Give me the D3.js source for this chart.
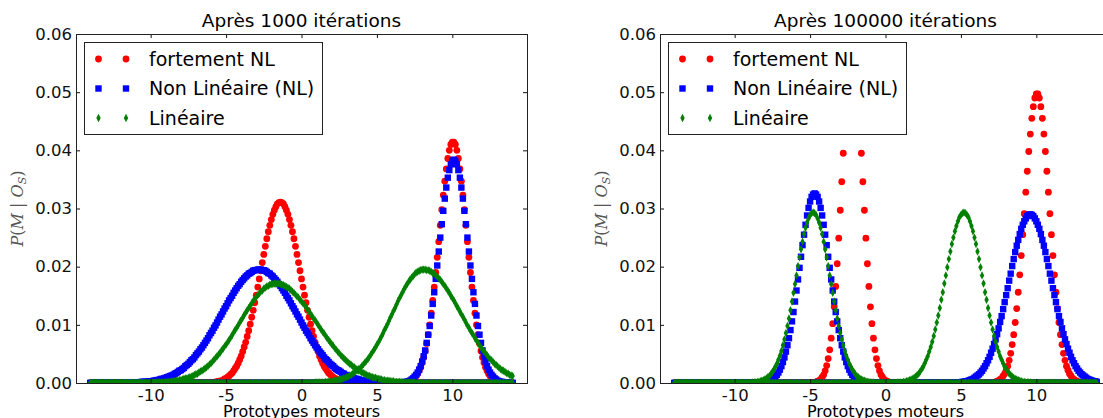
<!DOCTYPE html>
<html lang="fr">
<head>
<meta charset="UTF-8">
<title>P(M | Os) - prototypes moteurs</title>
<script src="https://d3js.org/d3.v7.min.js"></script>
<style>
  body { margin: 0; background: #fff; }
  text { font-family: "DejaVu Sans", sans-serif; }
</style>
</head>
<body>
<div id="chart"></div>
<script>
// one value per motor prototype, grid -14 .. 14 step 0.1 (10 values per line)
var prototypes = d3.range(281).map(function(i){ return Math.round(-140 + i) / 10; });
var xTicks = [-10, -5, 0, 5, 10];
var yTicks = [0, 0.01, 0.02, 0.03, 0.04, 0.05, 0.06];
var titles = ["Après 1000 itérations", "Après 100000 itérations"];
var seriesNames = ["fortement NL", "Non Linéaire (NL)", "Linéaire"];

// ---- after 1000 iterations ----
var fortA_1000 = [
0,0,0,0,0,0,0,0,0,0,
0,0,0,0,0,0,0,0,0,0,
0,0,0,0,0,0,0,0,0,0,
0,0,0,0,0,0,0,0,0,0,
0,0,0,0,0,0,0,0,0,0,
0,0,0,0,0,0,0,0,0,0,
0,0,0,0,0,0,0,0,0,0,
0,0,0,0,0,0,0,0,0,.0001,
.0001,.0001,.0001,.0002,.0002,.0003,.0003,.0004,.0005,.0007,
.0008,.0010,.0012,.0015,.0017,.0021,.0025,.0029,.0034,.0040,
.0046,.0054,.0062,.0070,.0080,.0090,.0101,.0113,.0125,.0138,
.0151,.0165,.0179,.0193,.0207,.0221,.0235,.0248,.0260,.0271,
.0281,.0290,.0297,.0303,.0308,.0310,.0311,.0310,.0308,.0303,
.0297,.0290,.0281,.0271,.0260,.0248,.0235,.0221,.0207,.0193,
.0179,.0165,.0151,.0138,.0125,.0113,.0101,.0090,.0080,.0070,
.0062,.0054,.0046,.0040,.0034,.0029,.0025,.0021,.0017,.0015,
.0012,.0010,.0008,.0007,.0005,.0004,.0003,.0003,.0002,.0002,
.0001,.0001,.0001,.0001,0,0,0,0,0,0,
0,0,0,0,0,0,0,0,0,0,
0,0,0,0,0,0,0,0,0,0,
0,0,0,0,0,0,0,0,0,0,
0,0,0,0,0,0,0,0,0,0,
0,0,0,0,0,0,0,0,0,0,
0,0,0,0,0,0,0,0,0,0,
0,0,0,0,0,0,0,0,0,0,
0,0,0,0,0,0,0,0,0,0,
0,0,0,0,0,0,0,0,0,0,
0,0,0,0,0,0,0,0,0,0,
0];
var fortB_1000 = [
0,0,0,0,0,0,0,0,0,0,
0,0,0,0,0,0,0,0,0,0,
0,0,0,0,0,0,0,0,0,0,
0,0,0,0,0,0,0,0,0,0,
0,0,0,0,0,0,0,0,0,0,
0,0,0,0,0,0,0,0,0,0,
0,0,0,0,0,0,0,0,0,0,
0,0,0,0,0,0,0,0,0,0,
0,0,0,0,0,0,0,0,0,0,
0,0,0,0,0,0,0,0,0,0,
0,0,0,0,0,0,0,0,0,0,
0,0,0,0,0,0,0,0,0,0,
0,0,0,0,0,0,0,0,0,0,
0,0,0,0,0,0,0,0,0,0,
0,0,0,0,0,0,0,0,0,0,
0,0,0,0,0,0,0,0,0,0,
0,0,0,0,0,0,0,0,0,0,
0,0,0,0,0,0,0,0,0,0,
0,0,0,0,0,0,0,0,0,0,
0,0,0,0,0,0,0,0,0,0,
0,0,0,0,0,0,0,.0001,.0001,.0001,
.0002,.0002,.0003,.0005,.0007,.0009,.0012,.0016,.0021,.0027,
.0035,.0044,.0055,.0068,.0083,.0100,.0120,.0142,.0165,.0190,
.0216,.0243,.0271,.0298,.0323,.0347,.0368,.0386,.0400,.0410,
.0414,.0414,.0410,.0400,.0386,.0368,.0347,.0323,.0298,.0271,
.0243,.0216,.0190,.0165,.0142,.0120,.0100,.0083,.0068,.0055,
.0044,.0035,.0027,.0021,.0016,.0012,.0009,.0007,.0005,.0003,
.0002,.0002,.0001,.0001,.0001,0,0,0,0,0,
0];
var nlA_1000 = [
0,0,0,0,0,0,0,0,0,0,
0,0,0,0,0,0,0,0,0,0,
0,0,0,0,0,0,.0001,.0001,.0001,.0001,
.0001,.0001,.0001,.0001,.0002,.0002,.0002,.0002,.0002,.0003,
.0003,.0003,.0004,.0004,.0005,.0005,.0006,.0007,.0007,.0008,
.0009,.0010,.0011,.0012,.0013,.0014,.0016,.0017,.0019,.0021,
.0022,.0024,.0026,.0029,.0031,.0033,.0036,.0039,.0041,.0044,
.0048,.0051,.0054,.0058,.0061,.0065,.0069,.0073,.0077,.0082,
.0086,.0090,.0095,.0099,.0104,.0109,.0114,.0118,.0123,.0128,
.0132,.0137,.0142,.0146,.0150,.0155,.0159,.0163,.0167,.0170,
.0174,.0177,.0180,.0183,.0185,.0188,.0189,.0191,.0193,.0194,
.0194,.0195,.0195,.0195,.0194,.0194,.0193,.0191,.0189,.0188,
.0185,.0183,.0180,.0177,.0174,.0170,.0167,.0163,.0159,.0155,
.0150,.0146,.0142,.0137,.0132,.0128,.0123,.0118,.0114,.0109,
.0104,.0099,.0095,.0090,.0086,.0082,.0077,.0073,.0069,.0065,
.0061,.0058,.0054,.0051,.0048,.0044,.0041,.0039,.0036,.0033,
.0031,.0029,.0026,.0024,.0022,.0021,.0019,.0017,.0016,.0014,
.0013,.0012,.0011,.0010,.0009,.0008,.0007,.0007,.0006,.0005,
.0005,.0004,.0004,.0003,.0003,.0003,.0002,.0002,.0002,.0002,
.0002,.0001,.0001,.0001,.0001,.0001,.0001,.0001,.0001,0,
0,0,0,0,0,0,0,0,0,0,
0,0,0,0,0,0,0,0,0,0,
0,0,0,0,0,0,0,0,0,0,
0,0,0,0,0,0,0,0,0,0,
0,0,0,0,0,0,0,0,0,0,
0,0,0,0,0,0,0,0,0,0,
0,0,0,0,0,0,0,0,0,0,
0,0,0,0,0,0,0,0,0,0,
0];
var nlB_1000 = [
0,0,0,0,0,0,0,0,0,0,
0,0,0,0,0,0,0,0,0,0,
0,0,0,0,0,0,0,0,0,0,
0,0,0,0,0,0,0,0,0,0,
0,0,0,0,0,0,0,0,0,0,
0,0,0,0,0,0,0,0,0,0,
0,0,0,0,0,0,0,0,0,0,
0,0,0,0,0,0,0,0,0,0,
0,0,0,0,0,0,0,0,0,0,
0,0,0,0,0,0,0,0,0,0,
0,0,0,0,0,0,0,0,0,0,
0,0,0,0,0,0,0,0,0,0,
0,0,0,0,0,0,0,0,0,0,
0,0,0,0,0,0,0,0,0,0,
0,0,0,0,0,0,0,0,0,0,
0,0,0,0,0,0,0,0,0,0,
0,0,0,0,0,0,0,0,0,0,
0,0,0,0,0,0,0,0,0,0,
0,0,0,0,0,0,0,0,0,0,
0,0,0,0,0,0,0,0,0,0,
0,0,0,0,0,0,.0001,.0001,.0001,.0002,
.0002,.0003,.0004,.0006,.0008,.0011,.0014,.0018,.0023,.0029,
.0037,.0046,.0056,.0069,.0083,.0098,.0116,.0136,.0156,.0179,
.0202,.0226,.0250,.0273,.0296,.0317,.0336,.0353,.0366,.0376,
.0382,.0384,.0382,.0376,.0366,.0353,.0336,.0317,.0296,.0273,
.0250,.0226,.0202,.0179,.0156,.0136,.0116,.0098,.0083,.0069,
.0056,.0046,.0037,.0029,.0023,.0018,.0014,.0011,.0008,.0006,
.0004,.0003,.0002,.0002,.0001,.0001,.0001,0,0,0,
0];
var linA_1000 = [
0,0,0,0,0,0,0,0,0,0,
0,0,0,0,0,0,0,0,0,0,
0,0,0,0,0,0,0,0,0,0,
0,0,0,0,0,0,0,0,0,0,
0,0,.0001,.0001,.0001,.0001,.0001,.0001,.0001,.0001,
.0002,.0002,.0002,.0002,.0003,.0003,.0003,.0004,.0004,.0005,
.0005,.0006,.0007,.0008,.0008,.0009,.0010,.0011,.0012,.0014,
.0015,.0016,.0018,.0020,.0021,.0023,.0025,.0027,.0029,.0032,
.0034,.0037,.0040,.0043,.0046,.0049,.0052,.0056,.0059,.0063,
.0066,.0070,.0074,.0078,.0082,.0087,.0091,.0095,.0099,.0104,
.0108,.0112,.0117,.0121,.0125,.0129,.0133,.0137,.0141,.0144,
.0148,.0151,.0154,.0157,.0159,.0162,.0164,.0166,.0167,.0169,
.0170,.0170,.0171,.0171,.0171,.0171,.0170,.0169,.0168,.0167,
.0165,.0164,.0162,.0160,.0157,.0155,.0152,.0149,.0147,.0143,
.0140,.0137,.0134,.0130,.0126,.0123,.0119,.0115,.0111,.0108,
.0104,.0100,.0096,.0092,.0088,.0085,.0081,.0077,.0074,.0070,
.0067,.0064,.0060,.0057,.0054,.0051,.0048,.0045,.0043,.0040,
.0038,.0035,.0033,.0031,.0029,.0027,.0025,.0023,.0021,.0020,
.0018,.0017,.0016,.0014,.0013,.0012,.0011,.0010,.0009,.0009,
.0008,.0007,.0007,.0006,.0005,.0005,.0004,.0004,.0004,.0003,
.0003,.0003,.0002,.0002,.0002,.0002,.0002,.0001,.0001,.0001,
.0001,.0001,.0001,.0001,.0001,.0001,0,0,0,0,
0,0,0,0,0,0,0,0,0,0,
0,0,0,0,0,0,0,0,0,0,
0,0,0,0,0,0,0,0,0,0,
0,0,0,0,0,0,0,0,0,0,
0,0,0,0,0,0,0,0,0,0,
0,0,0,0,0,0,0,0,0,0,
0];
var linB_1000 = [
0,0,0,0,0,0,0,0,0,0,
0,0,0,0,0,0,0,0,0,0,
0,0,0,0,0,0,0,0,0,0,
0,0,0,0,0,0,0,0,0,0,
0,0,0,0,0,0,0,0,0,0,
0,0,0,0,0,0,0,0,0,0,
0,0,0,0,0,0,0,0,0,0,
0,0,0,0,0,0,0,0,0,0,
0,0,0,0,0,0,0,0,0,0,
0,0,0,0,0,0,0,0,0,0,
0,0,0,0,0,0,0,0,0,0,
0,0,0,0,0,0,0,0,0,0,
0,0,0,0,0,0,0,0,0,0,
0,0,0,0,0,0,0,0,0,0,
0,0,0,0,0,0,0,0,0,.0001,
.0001,.0001,.0001,.0001,.0001,.0001,.0002,.0002,.0002,.0002,
.0003,.0003,.0004,.0004,.0005,.0006,.0006,.0007,.0008,.0009,
.0010,.0011,.0013,.0014,.0016,.0018,.0020,.0022,.0024,.0026,
.0029,.0032,.0035,.0038,.0041,.0045,.0049,.0053,.0057,.0061,
.0066,.0070,.0075,.0080,.0085,.0091,.0096,.0101,.0107,.0113,
.0118,.0124,.0129,.0135,.0141,.0146,.0151,.0156,.0161,.0166,
.0170,.0174,.0178,.0181,.0184,.0187,.0190,.0191,.0193,.0194,
.0195,.0195,.0195,.0194,.0194,.0193,.0191,.0189,.0188,.0185,
.0183,.0180,.0177,.0174,.0170,.0167,.0163,.0159,.0155,.0150,
.0146,.0142,.0137,.0132,.0128,.0123,.0118,.0114,.0109,.0104,
.0099,.0095,.0090,.0086,.0082,.0077,.0073,.0069,.0065,.0061,
.0058,.0054,.0051,.0048,.0044,.0041,.0039,.0036,.0033,.0031,
.0029,.0026,.0024,.0022,.0021,.0019,.0017,.0016,.0014,.0013,
.0012];

// ---- after 100000 iterations ----
var fortA_100000 = [
0,0,0,0,0,0,0,0,0,0,
0,0,0,0,0,0,0,0,0,0,
0,0,0,0,0,0,0,0,0,0,
0,0,0,0,0,0,0,0,0,0,
0,0,0,0,0,0,0,0,0,0,
0,0,0,0,0,0,0,0,0,0,
0,0,0,0,0,0,0,0,0,0,
0,0,0,0,0,0,0,0,0,0,
0,0,0,0,0,0,0,0,0,0,
0,0,.0001,.0001,.0002,.0003,.0004,.0006,.0010,.0014,
.0021,.0030,.0042,.0057,.0077,.0102,.0131,.0166,.0205,.0249,
.0297,.0346,.0395,.0442,.0484,.0520,.0547,.0564,.0570,.0564,
.0547,.0520,.0484,.0442,.0395,.0346,.0297,.0249,.0205,.0166,
.0131,.0102,.0077,.0057,.0042,.0030,.0021,.0014,.0010,.0006,
.0004,.0003,.0002,.0001,.0001,0,0,0,0,0,
0,0,0,0,0,0,0,0,0,0,
0,0,0,0,0,0,0,0,0,0,
0,0,0,0,0,0,0,0,0,0,
0,0,0,0,0,0,0,0,0,0,
0,0,0,0,0,0,0,0,0,0,
0,0,0,0,0,0,0,0,0,0,
0,0,0,0,0,0,0,0,0,0,
0,0,0,0,0,0,0,0,0,0,
0,0,0,0,0,0,0,0,0,0,
0,0,0,0,0,0,0,0,0,0,
0,0,0,0,0,0,0,0,0,0,
0,0,0,0,0,0,0,0,0,0,
0,0,0,0,0,0,0,0,0,0,
0];
var fortB_100000 = [
0,0,0,0,0,0,0,0,0,0,
0,0,0,0,0,0,0,0,0,0,
0,0,0,0,0,0,0,0,0,0,
0,0,0,0,0,0,0,0,0,0,
0,0,0,0,0,0,0,0,0,0,
0,0,0,0,0,0,0,0,0,0,
0,0,0,0,0,0,0,0,0,0,
0,0,0,0,0,0,0,0,0,0,
0,0,0,0,0,0,0,0,0,0,
0,0,0,0,0,0,0,0,0,0,
0,0,0,0,0,0,0,0,0,0,
0,0,0,0,0,0,0,0,0,0,
0,0,0,0,0,0,0,0,0,0,
0,0,0,0,0,0,0,0,0,0,
0,0,0,0,0,0,0,0,0,0,
0,0,0,0,0,0,0,0,0,0,
0,0,0,0,0,0,0,0,0,0,
0,0,0,0,0,0,0,0,0,0,
0,0,0,0,0,0,0,0,0,0,
0,0,0,0,0,0,0,0,0,0,
0,0,0,0,0,0,0,0,0,0,
0,.0001,.0001,.0002,.0003,.0004,.0006,.0008,.0012,.0016,
.0022,.0029,.0039,.0051,.0066,.0083,.0104,.0128,.0156,.0186,
.0219,.0255,.0291,.0328,.0364,.0398,.0428,.0455,.0475,.0490,
.0497,.0497,.0490,.0475,.0455,.0428,.0398,.0364,.0328,.0291,
.0255,.0219,.0186,.0156,.0128,.0104,.0083,.0066,.0051,.0039,
.0029,.0022,.0016,.0012,.0008,.0006,.0004,.0003,.0002,.0001,
.0001,0,0,0,0,0,0,0,0,0,
0];
var nlA_100000 = [
0,0,0,0,0,0,0,0,0,0,
0,0,0,0,0,0,0,0,0,0,
0,0,0,0,0,0,0,0,0,0,
0,0,0,0,0,0,0,0,0,0,
0,0,0,0,0,0,0,0,0,0,
0,0,0,0,0,0,0,0,.0001,.0001,
.0001,.0002,.0003,.0004,.0005,.0006,.0009,.0011,.0014,.0018,
.0023,.0029,.0036,.0044,.0054,.0065,.0077,.0091,.0106,.0122,
.0140,.0159,.0178,.0198,.0217,.0237,.0255,.0272,.0288,.0301,
.0312,.0320,.0324,.0326,.0324,.0320,.0312,.0301,.0288,.0272,
.0255,.0237,.0217,.0198,.0178,.0159,.0140,.0122,.0106,.0091,
.0077,.0065,.0054,.0044,.0036,.0029,.0023,.0018,.0014,.0011,
.0009,.0006,.0005,.0004,.0003,.0002,.0001,.0001,.0001,0,
0,0,0,0,0,0,0,0,0,0,
0,0,0,0,0,0,0,0,0,0,
0,0,0,0,0,0,0,0,0,0,
0,0,0,0,0,0,0,0,0,0,
0,0,0,0,0,0,0,0,0,0,
0,0,0,0,0,0,0,0,0,0,
0,0,0,0,0,0,0,0,0,0,
0,0,0,0,0,0,0,0,0,0,
0,0,0,0,0,0,0,0,0,0,
0,0,0,0,0,0,0,0,0,0,
0,0,0,0,0,0,0,0,0,0,
0,0,0,0,0,0,0,0,0,0,
0,0,0,0,0,0,0,0,0,0,
0,0,0,0,0,0,0,0,0,0,
0,0,0,0,0,0,0,0,0,0,
0];
var nlB_100000 = [
0,0,0,0,0,0,0,0,0,0,
0,0,0,0,0,0,0,0,0,0,
0,0,0,0,0,0,0,0,0,0,
0,0,0,0,0,0,0,0,0,0,
0,0,0,0,0,0,0,0,0,0,
0,0,0,0,0,0,0,0,0,0,
0,0,0,0,0,0,0,0,0,0,
0,0,0,0,0,0,0,0,0,0,
0,0,0,0,0,0,0,0,0,0,
0,0,0,0,0,0,0,0,0,0,
0,0,0,0,0,0,0,0,0,0,
0,0,0,0,0,0,0,0,0,0,
0,0,0,0,0,0,0,0,0,0,
0,0,0,0,0,0,0,0,0,0,
0,0,0,0,0,0,0,0,0,0,
0,0,0,0,0,0,0,0,0,0,
0,0,0,0,0,0,0,0,0,0,
0,0,0,0,0,0,0,0,0,0,
0,0,0,0,0,0,0,.0001,.0001,.0001,
.0001,.0002,.0002,.0003,.0003,.0004,.0005,.0006,.0007,.0009,
.0011,.0013,.0015,.0018,.0021,.0025,.0029,.0034,.0039,.0045,
.0052,.0059,.0067,.0075,.0084,.0094,.0105,.0115,.0127,.0139,
.0151,.0163,.0176,.0188,.0201,.0213,.0225,.0236,.0246,.0256,
.0265,.0272,.0278,.0283,.0287,.0289,.0290,.0289,.0287,.0283,
.0278,.0272,.0265,.0256,.0246,.0236,.0225,.0213,.0201,.0188,
.0176,.0163,.0151,.0139,.0127,.0115,.0105,.0094,.0084,.0075,
.0067,.0059,.0052,.0045,.0039,.0034,.0029,.0025,.0021,.0018,
.0015,.0013,.0011,.0009,.0007,.0006,.0005,.0004,.0003,.0003,
.0002];
var linA_100000 = [
0,0,0,0,0,0,0,0,0,0,
0,0,0,0,0,0,0,0,0,0,
0,0,0,0,0,0,0,0,0,0,
0,0,0,0,0,0,0,0,0,0,
0,0,0,0,0,0,0,0,0,0,
0,0,.0001,.0001,.0001,.0002,.0002,.0003,.0004,.0005,
.0006,.0008,.0010,.0012,.0015,.0019,.0023,.0028,.0033,.0040,
.0047,.0055,.0065,.0075,.0086,.0098,.0111,.0125,.0140,.0155,
.0170,.0185,.0201,.0216,.0230,.0243,.0256,.0267,.0276,.0283,
.0289,.0292,.0293,.0292,.0289,.0283,.0276,.0267,.0256,.0243,
.0230,.0216,.0201,.0185,.0170,.0155,.0140,.0125,.0111,.0098,
.0086,.0075,.0065,.0055,.0047,.0040,.0033,.0028,.0023,.0019,
.0015,.0012,.0010,.0008,.0006,.0005,.0004,.0003,.0002,.0002,
.0001,.0001,.0001,0,0,0,0,0,0,0,
0,0,0,0,0,0,0,0,0,0,
0,0,0,0,0,0,0,0,0,0,
0,0,0,0,0,0,0,0,0,0,
0,0,0,0,0,0,0,0,0,0,
0,0,0,0,0,0,0,0,0,0,
0,0,0,0,0,0,0,0,0,0,
0,0,0,0,0,0,0,0,0,0,
0,0,0,0,0,0,0,0,0,0,
0,0,0,0,0,0,0,0,0,0,
0,0,0,0,0,0,0,0,0,0,
0,0,0,0,0,0,0,0,0,0,
0,0,0,0,0,0,0,0,0,0,
0,0,0,0,0,0,0,0,0,0,
0,0,0,0,0,0,0,0,0,0,
0];
var linB_100000 = [
0,0,0,0,0,0,0,0,0,0,
0,0,0,0,0,0,0,0,0,0,
0,0,0,0,0,0,0,0,0,0,
0,0,0,0,0,0,0,0,0,0,
0,0,0,0,0,0,0,0,0,0,
0,0,0,0,0,0,0,0,0,0,
0,0,0,0,0,0,0,0,0,0,
0,0,0,0,0,0,0,0,0,0,
0,0,0,0,0,0,0,0,0,0,
0,0,0,0,0,0,0,0,0,0,
0,0,0,0,0,0,0,0,0,0,
0,0,0,0,0,0,0,0,0,0,
0,0,0,0,0,0,0,0,0,0,
0,0,0,0,0,0,0,0,0,0,
0,0,0,0,0,0,0,0,.0001,.0001,
.0001,.0001,.0002,.0002,.0003,.0004,.0005,.0006,.0007,.0009,
.0011,.0014,.0016,.0020,.0024,.0028,.0034,.0040,.0046,.0054,
.0062,.0071,.0081,.0092,.0104,.0116,.0129,.0143,.0156,.0171,
.0185,.0199,.0213,.0226,.0239,.0250,.0261,.0270,.0278,.0285,
.0289,.0292,.0293,.0292,.0289,.0285,.0278,.0270,.0261,.0250,
.0239,.0226,.0213,.0199,.0185,.0171,.0156,.0143,.0129,.0116,
.0104,.0092,.0081,.0071,.0062,.0054,.0046,.0040,.0034,.0028,
.0024,.0020,.0016,.0014,.0011,.0009,.0007,.0006,.0005,.0004,
.0003,.0002,.0002,.0001,.0001,.0001,.0001,0,0,0,
0,0,0,0,0,0,0,0,0,0,
0,0,0,0,0,0,0,0,0,0,
0,0,0,0,0,0,0,0,0,0,
0,0,0,0,0,0,0,0,0,0,
0];

var width = 1103, height = 418;
var plotTop = 34, plotBottom = 383, plotWidth = 451;
var colors = ["#ff0000", "#0000ff", "#008000"];

var panels = [
    { title: titles[0], left: 76,
      series: [[fortA_1000, fortB_1000], [nlA_1000, nlB_1000], [linA_1000, linB_1000]] },
    { title: titles[1], left: 660,
      series: [[fortA_100000, fortB_100000], [nlA_100000, nlB_100000], [linA_100000, linB_100000]] }
];

panels.forEach(function(p){
    p.series.forEach(function(pair){
        pair.forEach(function(arr){
            if (arr.length !== prototypes.length) throw new Error("bad length " + arr.length);
        });
    });
});

var svg = d3.select("#chart").append("svg")
    .attr("width", width)
    .attr("height", height);

// draw one marker of series k at (x, y)
function addMarker(g, k, x, y){
    if (k === 0) {
        g.append("circle").attr("cx", x).attr("cy", y).attr("r", 3.4).attr("fill", colors[0]);
    } else if (k === 1) {
        g.append("rect").attr("x", x - 3.2).attr("y", y - 3.2).attr("width", 6.4).attr("height", 6.4).attr("fill", colors[1]);
    } else {
        g.append("path").attr("d", "M" + x + "," + (y - 4.2) + "L" + (x + 2.2) + "," + y + "L" + x + "," + (y + 4.2) + "L" + (x - 2.2) + "," + y + "Z")
            .attr("fill", colors[2]);
    }
}

panels.forEach(function(p, pi){
    var xScale = d3.scaleLinear().domain([-14.95, 14.95]).range([p.left, p.left + plotWidth]);
    var yScale = d3.scaleLinear().domain([0, 0.06]).range([plotBottom, plotTop]);
    var g = svg.append("g");

    g.append("clipPath").attr("id", "clip" + pi)
        .append("rect")
        .attr("x", p.left).attr("y", plotTop)
        .attr("width", plotWidth).attr("height", plotBottom - plotTop);

    var plot = g.append("g").attr("clip-path", "url(#clip" + pi + ")");

    p.series.forEach(function(pair, k){
        pair.forEach(function(arr){
            var sg = plot.append("g");
            arr.forEach(function(v, i){
                addMarker(sg, k, xScale(prototypes[i]), yScale(v));
            });
        });
    });

    // axes, ticks pointing inwards on the four sides
    var xAxis = g.append("g")
        .attr("transform", "translate(0," + plotBottom + ")")
        .call(d3.axisBottom(xScale).tickValues(xTicks).tickSize(-4).tickPadding(6)
            .tickFormat(function(d){ return String(d); }));
    var xTop = g.append("g")
        .attr("transform", "translate(0," + plotTop + ")")
        .call(d3.axisTop(xScale).tickValues(xTicks).tickSize(-4).tickFormat(""));
    var yAxis = g.append("g")
        .attr("transform", "translate(" + p.left + ",0)")
        .call(d3.axisLeft(yScale).tickValues(yTicks).tickSize(-4).tickPadding(4)
            .tickFormat(d3.format(".2f")));
    var yRight = g.append("g")
        .attr("transform", "translate(" + (p.left + plotWidth) + ",0)")
        .call(d3.axisRight(yScale).tickValues(yTicks).tickSize(-4).tickFormat(""));

    [xAxis, xTop, yAxis, yRight].forEach(function(a){
        a.select(".domain").remove();
        a.attr("font-family", "DejaVu Sans").attr("font-size", 16.5).attr("color", "#111");
    });

    g.append("rect")
        .attr("x", p.left + 0.5).attr("y", plotTop + 0.5)
        .attr("width", plotWidth).attr("height", plotBottom - plotTop)
        .attr("fill", "none").attr("stroke", "#222").attr("stroke-width", 1);

    // title and axis labels
    g.append("text")
        .attr("x", p.left + plotWidth / 2).attr("y", 27)
        .attr("text-anchor", "middle").attr("font-size", 18.5)
        .text(p.title);

    g.append("text")
        .attr("x", p.left + plotWidth / 2).attr("y", 417)
        .attr("text-anchor", "middle").attr("font-size", 16)
        .text("Prototypes moteurs");

    var yl = g.append("text")
        .attr("transform", "translate(" + (p.left - 53) + "," + ((plotTop + plotBottom) / 2) + ") rotate(-90)")
        .attr("text-anchor", "middle")
        .attr("fill", "#555")
        .style("font-family", "'DejaVu Serif', serif")
        .attr("font-size", 16);
    yl.append("tspan").attr("font-style", "italic").text("P");
    yl.append("tspan").text("(");
    yl.append("tspan").attr("font-style", "italic").text("M");
    yl.append("tspan").text(" | ");
    yl.append("tspan").attr("font-style", "italic").text("O");
    yl.append("tspan").attr("font-style", "italic").attr("font-size", 11).attr("dy", 3).text("S");
    yl.append("tspan").attr("dy", -3).text(")");

    // legend
    var lg = g.append("g").attr("transform", "translate(" + (p.left + 8) + ",42)");
    lg.append("rect")
        .attr("x", 0.5).attr("y", 0.5).attr("width", 238).attr("height", 92)
        .attr("fill", "#fff").attr("stroke", "#222").attr("stroke-width", 1);
    seriesNames.forEach(function(name, k){
        var yy = 17 + k * 29.5;
        addMarker(lg, k, 14.5, yy);
        addMarker(lg, k, 42, yy);
        lg.append("text")
            .attr("x", 65).attr("y", yy).attr("dy", "0.35em")
            .attr("font-size", 19)
            .text(name);
    });
});
</script>
</body>
</html>
